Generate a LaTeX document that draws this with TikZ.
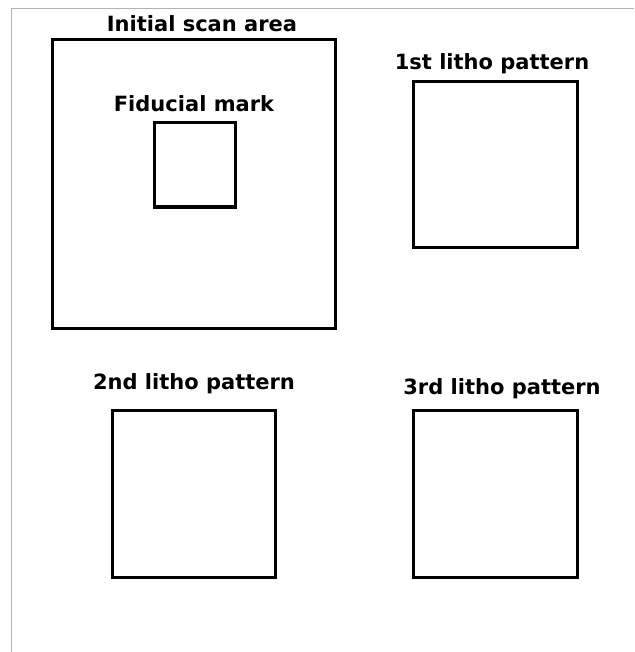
\documentclass[tikz,border=0pt]{standalone}
\usepackage{fontspec}
\setmainfont{DejaVu Sans}
\begin{document}
\begin{tikzpicture}[x=1pt,y=-1pt,
  box/.style={draw=black,line width=3pt,fill=white},
  lbl/.style={font=\bfseries\fontsize{21}{21}\selectfont,inner sep=0pt,anchor=center}]
\useasboundingbox (0,0) rectangle (634,652);
\fill[white] (0,0) rectangle (634,652);
\draw[gray!60,line width=1pt] (11,652) -- (11,9) -- (634,9);
\draw[box] (52,40) rectangle (335,328);
\draw[box] (154,123) rectangle (235,207);
\draw[box] (413,82) rectangle (577,247);
\draw[box] (112,410) rectangle (275,577);
\draw[box] (413,410) rectangle (577,577);
\node[lbl] (t0) at (202,24) {Initial scan area};
\node[lbl] (t1) at (194,104) {Fiducial mark};
\node[lbl] (t2) at (492,64) {1st litho pattern};
\node[lbl] (t3) at (194,384) {2nd litho pattern};
\node[lbl] (t4) at (502,389) {3rd litho pattern};
\end{tikzpicture}
\end{document}
